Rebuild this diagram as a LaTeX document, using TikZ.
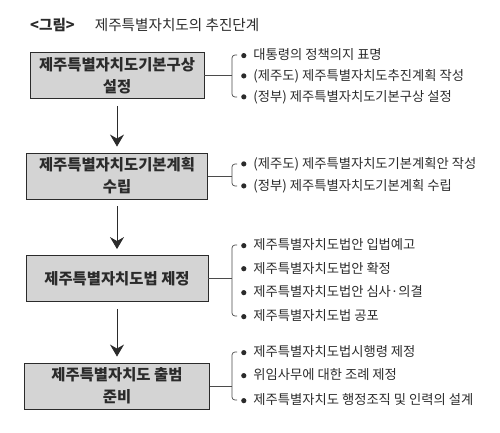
\documentclass[tikz,border=0pt]{standalone}
\usepackage{fontspec}
\setmainfont{Noto Sans CJK KR}
\usetikzlibrary{arrows.meta}
\definecolor{ink}{HTML}{2B2B2B}
\definecolor{boxgray}{HTML}{D4D4D4}
\newcommand\dotmark{\tikz[baseline=-0.6ex]\fill[ink] (0,0) circle (2.6pt);}

\begin{document}
\begin{tikzpicture}[x=1pt,y=-1pt,node distance=100pt,font=\fontsize{13.3}{15}\selectfont,
  stage/.style={draw=ink,line width=0.9pt,fill=boxgray,minimum height=46pt,align=center,inner sep=0pt,
    text=ink,font=\fontsize{15.4}{22}\selectfont\bfseries},
  item/.style={anchor=west,inner sep=0pt,text=ink},
  flow/.style={-{Stealth[length=12pt,width=14pt,inset=4pt]},line width=0.8pt,draw=ink,shorten <=7pt,shorten >=6pt},
  brace/.style={draw=ink!85,line width=0.7pt,rounded corners=3pt}]
  \useasboundingbox (0,0) rectangle (500,432);
  \node[anchor=west,inner sep=0pt,text=ink,font=\fontsize{14.6}{16}\selectfont] (title) at (30,25) {\textbf{<그림>}\hspace{20pt}제주특별자치도의 추진단계};

  % stages
  \node[stage,minimum width=174pt] at (117,75.5) (plan) {제주특별자치도기본구상\\설정};
  \node[stage,minimum width=181pt,below of=plan,yshift=-0.5pt] (basic) {제주특별자치도기본계획\\수립};
  \node[stage,minimum width=182pt,below of=basic,yshift=-2.5pt] (law) {제주특별자치도법 제정};
  \node[stage,minimum width=185pt,below of=law,yshift=-7.5pt] (launch) {제주특별자치도 출범\\준비};
  \draw[flow] (plan)--(basic);
  \draw[flow] (basic)--(law);
  \draw[flow] (law)--(launch);

  % details of each stage
  \node[item] (p1) at (241,55) {\dotmark\hspace{7pt}대통령의 정책의지 표명};
  \node[item] (p2) at (241,76) {\dotmark\hspace{7pt}(제주도) 제주특별자치도추진계획 작성};
  \node[item] (p3) at (241,97) {\dotmark\hspace{7pt}(정부) 제주특별자치도기본구상 설정};
  \node[item] (b1) at (241,164) {\dotmark\hspace{7pt}(제주도) 제주특별자치도기본계획안 작성};
  \node[item] (b2) at (241,186) {\dotmark\hspace{7pt}(정부) 제주특별자치도기본계획 수립};
  \node[item] (l1) at (241,245) {\dotmark\hspace{7pt}제주특별자치도법안 입법예고};
  \node[item] (l2) at (241,268) {\dotmark\hspace{7pt}제주특별자치도법안 확정};
  \node[item] (l3) at (241,292) {\dotmark\hspace{7pt}제주특별자치도법안 심사·의결};
  \node[item] (l4) at (241,316) {\dotmark\hspace{7pt}제주특별자치도법 공포};
  \node[item] (s1) at (241,352) {\dotmark\hspace{7pt}제주특별자치도법시행령 제정};
  \node[item] (s2) at (241,375) {\dotmark\hspace{7pt}위임사무에 대한 조례 제정};
  \node[item] (s3) at (241,400) {\dotmark\hspace{7pt}제주특별자치도 행정조직 및 인력의 설계};

  % brackets
  \coordinate (kp) at (232,75.5);
  \coordinate (kb) at (232,176);
  \coordinate (kl) at (232,278.5);
  \coordinate (ks) at (232,386);
  \draw[brace] (plan.east)--(kp);
  \draw[brace] ([xshift=-4pt]p1.west) -| (kp) |- ([xshift=-4pt]p3.west);
  \draw[brace] (basic.east)--(kb);
  \draw[brace] ([xshift=-4pt]b1.west) -| (kb) |- ([xshift=-4pt]b2.west);
  \draw[brace] (law.east)--(kl);
  \draw[brace] ([xshift=-4pt]l1.west) -| (kl) |- ([xshift=-4pt]l4.west);
  \draw[brace] (launch.east)--(ks);
  \draw[brace] ([xshift=-4pt]s1.west) -| (ks) |- ([xshift=-4pt]s3.west);
\end{tikzpicture}
\end{document}
